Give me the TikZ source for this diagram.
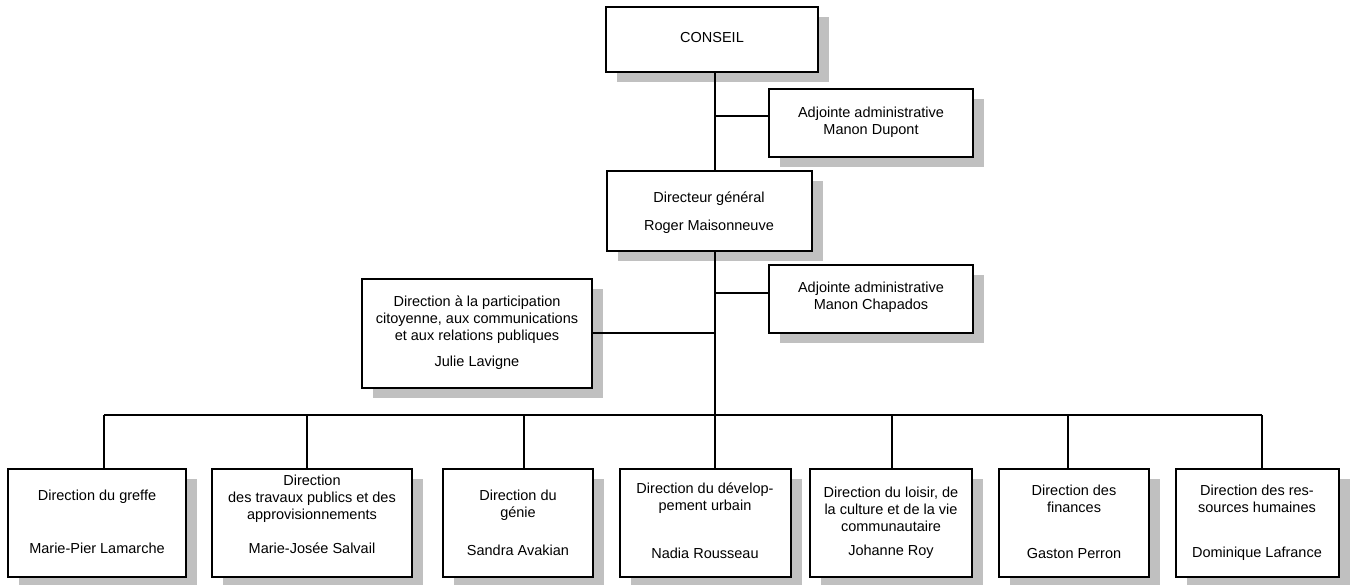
\documentclass[tikz,border=0pt]{standalone}
\usepackage{fontspec}
\setmainfont{Liberation Sans}
\usetikzlibrary{shadows}
\definecolor{sgray}{HTML}{C0C0C0}
\newcommand\orgbox[5]{\node[box, minimum width={(#4-#2)*1pt}, minimum height={(#5-#3)*1pt}] (#1) at ({(#2+#4)/2},{(#3+#5)/2}) {};}
\begin{document}
\begin{tikzpicture}[x=1pt,y=-1pt,
  box/.style={draw, line width=1.9pt, fill=white, inner sep=0pt,
    drop shadow={shadow xshift=11pt, shadow yshift=-10pt, fill=sgray, opacity=1, draw=none}},
  txt/.style={align=center, inner sep=0pt, font=\fontsize{14.5}{17}\selectfont},
  con/.style={line width=1.7pt}]
\useasboundingbox (0,0) rectangle (1352,584);
% boxes
\orgbox{conseil}{606}{7}{818}{72}
\orgbox{dupont}{769}{89}{973}{157}
\orgbox{dg}{607}{171}{812}{251}
\orgbox{chap}{769}{265}{973}{333}
\orgbox{julie}{362}{279}{592}{388}
\orgbox{b1}{8}{469}{186}{577}
\orgbox{b2}{212}{469}{412}{577}
\orgbox{b3}{443}{469}{593}{577}
\orgbox{b4}{620}{469}{791}{577}
\orgbox{b5}{810}{469}{972}{577}
\orgbox{b6}{999}{469}{1149}{577}
\orgbox{b7}{1176}{469}{1339}{577}
% texts
\node[txt] (conseilT) at (712,38) {CONSEIL};
\node[txt] (dupontT) at (871,122) {Adjointe administrative\\Manon Dupont};
\node[txt] (dgT) at (709,213) {Directeur général\\[11pt]Roger Maisonneuve};
\node[txt] (chapT) at (871,297) {Adjointe administrative\\Manon Chapados};
\node[txt] (julieT) at (477,333) {Direction à la participation\\citoyenne, aux communications\\et aux relations publiques\\[9pt]Julie Lavigne};
\node[txt] (b1T) at (97,497) {Direction du greffe};
\node[txt] (b1N) at (97,548) {Marie-Pier Lamarche};
\node[txt] (b2T) at (312,498.5) {Direction\\des travaux publics et des\\approvisionnements};
\node[txt] (b2N) at (312,548) {Marie-Josée Salvail};
\node[txt] (b3T) at (518,505) {Direction du\\génie};
\node[txt] (b3N) at (518,550) {Sandra Avakian};
\node[txt] (b4T) at (705,498.5) {Direction du dévelop-\\pement urbain};
\node[txt] (b4N) at (705,553) {Nadia Rousseau};
\node[txt] (b5T) at (891,509) {Direction du loisir, de\\la culture et de la vie\\communautaire};
\node[txt] (b5N) at (891,552) {Johanne Roy};
\node[txt] (b6T) at (1074,499) {Direction des\\finances};
\node[txt] (b6N) at (1074,554) {Gaston Perron};
\node[txt] (b7T) at (1257,499) {Direction des res-\\sources humaines};
\node[txt] (b7N) at (1257,554) {Dominique Lafrance};
% connectors
\coordinate (tk) at (715,0);
\coordinate (j1) at (715,116);
\coordinate (j2) at (715,293);
\coordinate (j3) at (715,333);
\coordinate (bus) at (715,415);
\coordinate (bl) at (104,415);
\coordinate (br) at (1262,415);
\draw[con] (tk |- conseil.south) -- (tk |- dg.north);
\draw[con] (j1) -- (j1 -| dupont.west);
\draw[con] (tk |- dg.south) -- (bus);
\draw[con] (j2) -- (j2 -| chap.west);
\draw[con] (j3) -- (j3 -| julie.east);
\draw[con] (bl) -- (br);
\foreach \n/\x in {b1/104, b2/307, b3/524, b4/715, b5/892, b6/1068, b7/1262}{
  \coordinate (d\n) at (\x,415);
  \draw[con] (d\n) -- (d\n |- \n.north);
}
\end{tikzpicture}
\end{document}
